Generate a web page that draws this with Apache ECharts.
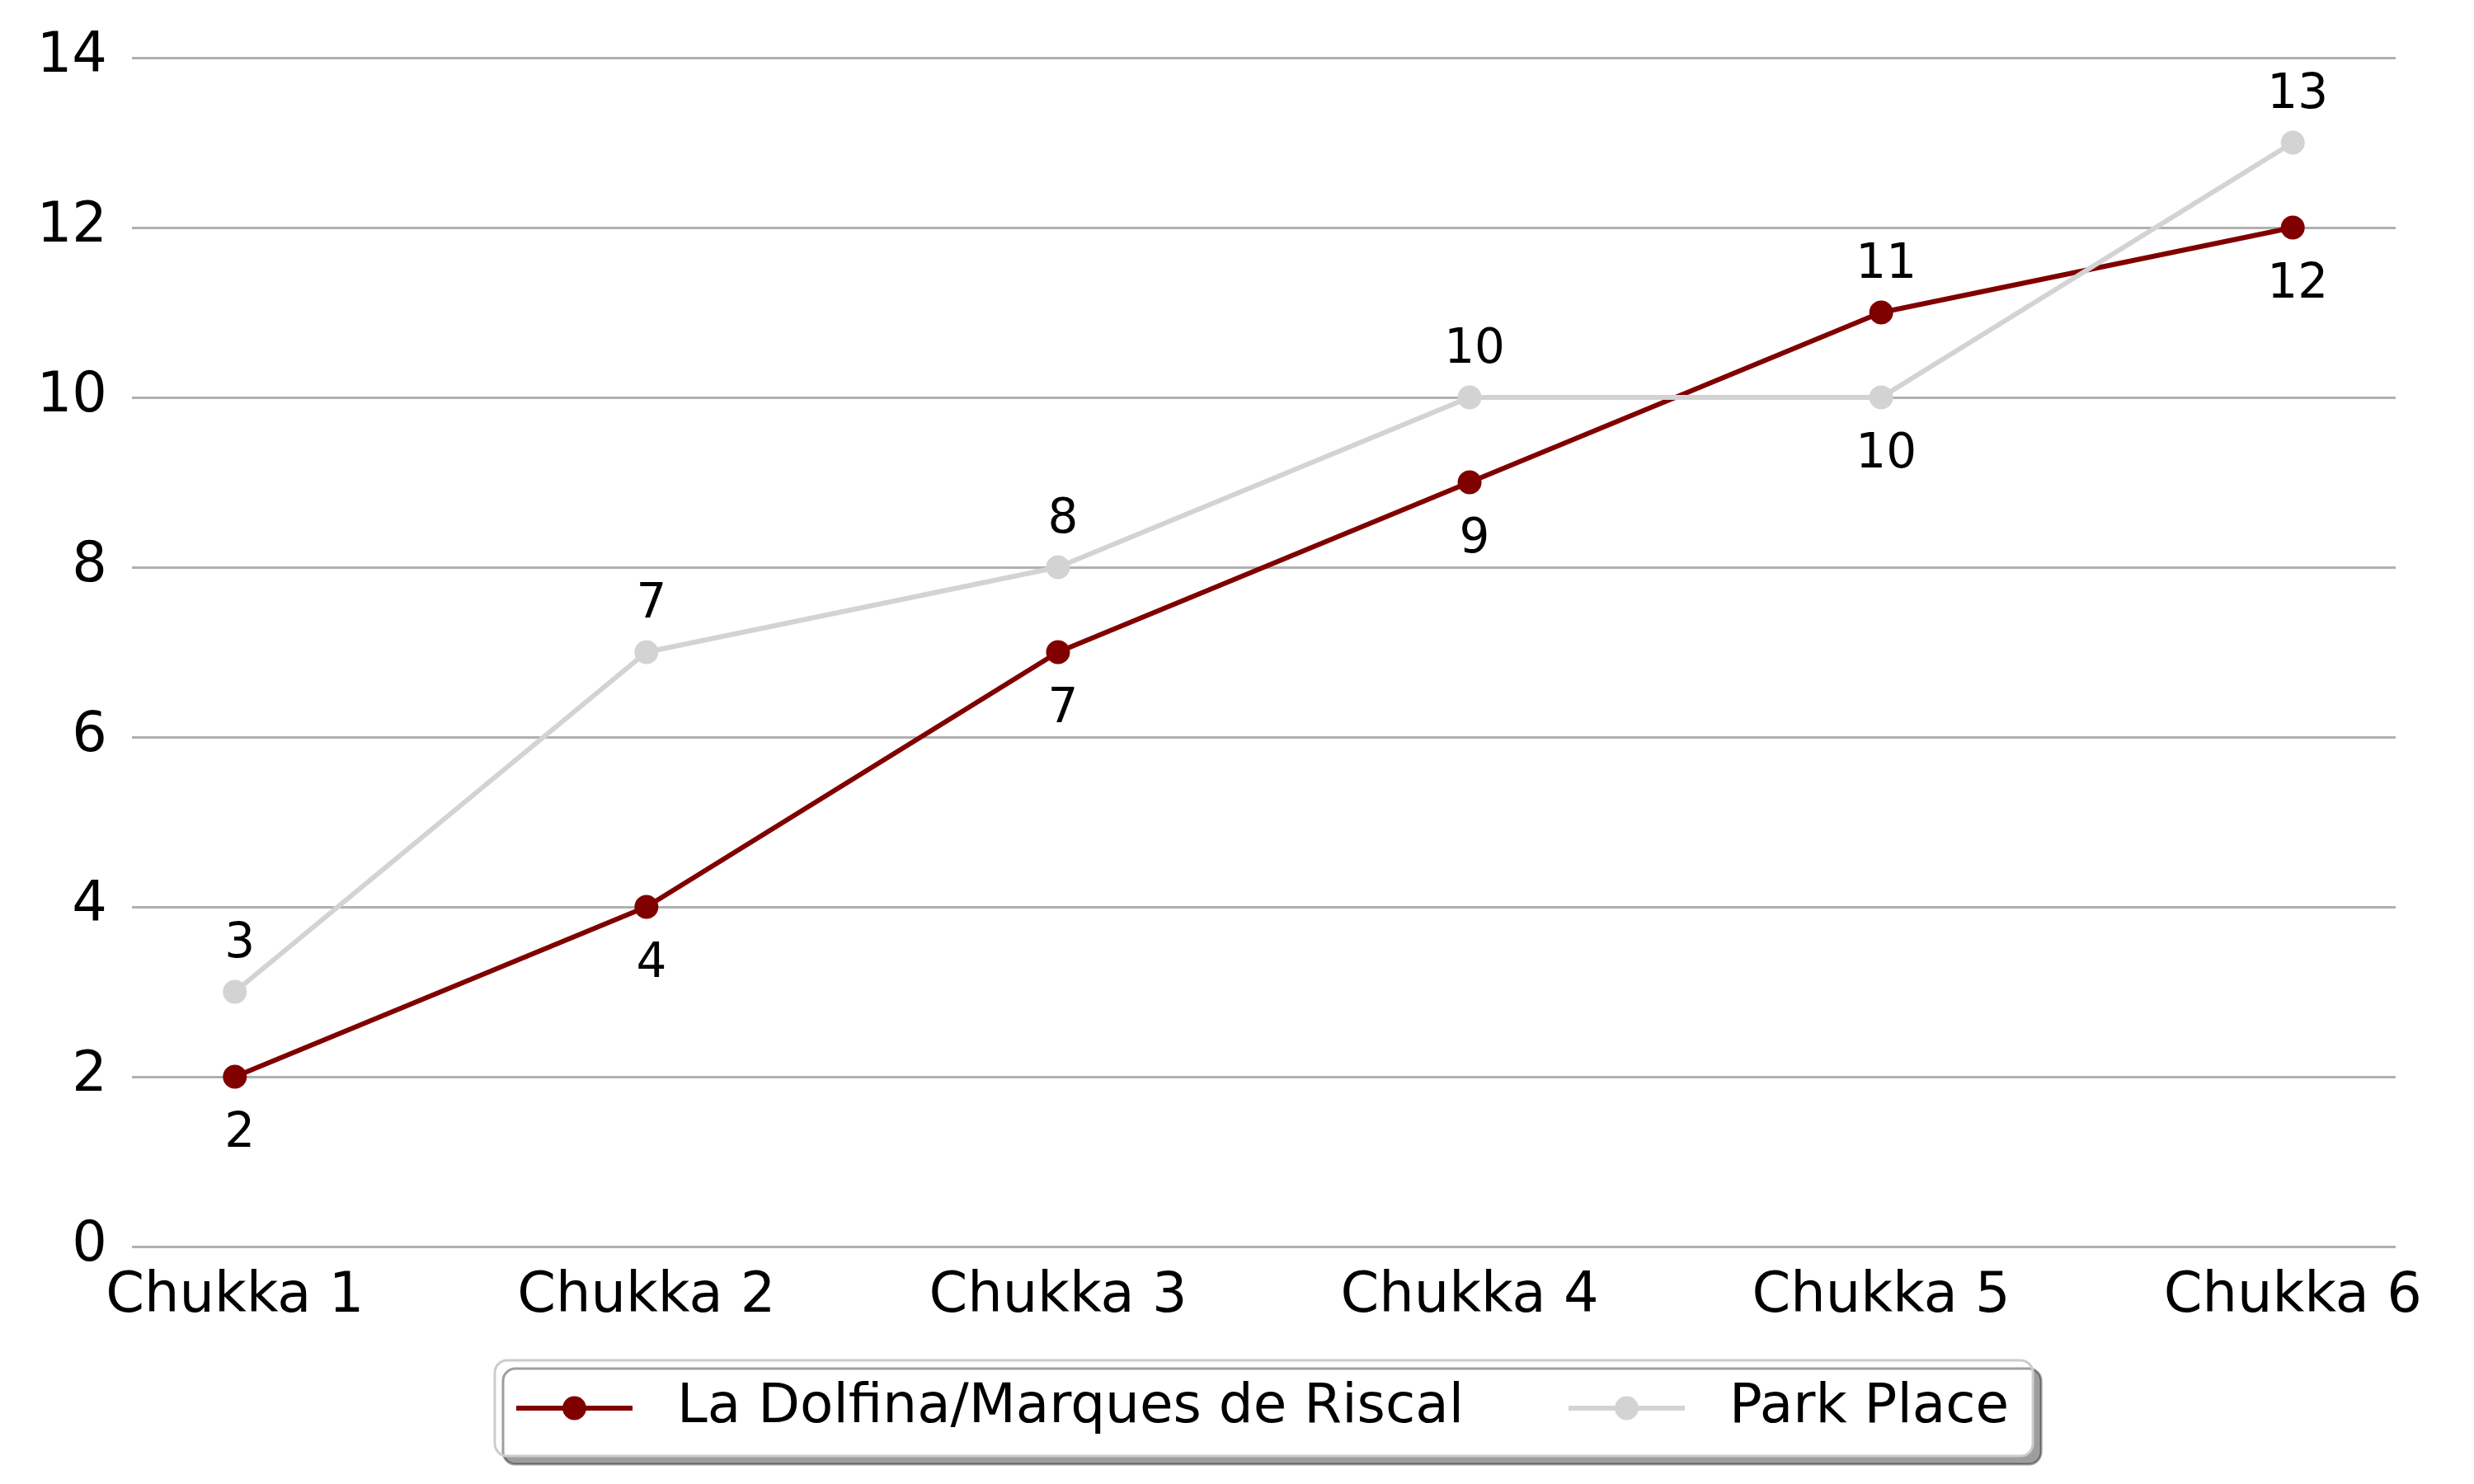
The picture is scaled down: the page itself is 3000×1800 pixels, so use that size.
<!DOCTYPE html>
<html>
<head>
<meta charset="utf-8">
<script src="https://cdn.jsdelivr.net/npm/echarts@6/dist/echarts.min.js"></script>
<style>
  html,body{margin:0;padding:0;background:#fff}
  #chart{width:3000px;height:1800px}
</style>
</head>
<body>
<div id="chart"></div>
<script>
// chart data
const categories = ['Chukka 1', 'Chukka 2', 'Chukka 3', 'Chukka 4', 'Chukka 5', 'Chukka 6'];
const laDolfina = [2, 4, 7, 9, 11, 12];
const parkPlace = [3, 7, 8, 10, 10, 13];
const yTicks = [0, 2, 4, 6, 8, 10, 12, 14];

const FONT = 'DejaVu Sans';

// label goes above the point when this team is ahead, below otherwise
function points(vals, other){
  return vals.map((v, i) => ({
    value: [i, v],
    label: { position: v > other[i] ? 'top' : 'bottom' }
  }));
}

function lineSeries(name, vals, other, color){
  return {
    name: name,
    type: 'line',
    data: points(vals, other),
    symbol: 'circle',
    symbolSize: 29,
    itemStyle: { color: color },
    lineStyle: { color: color, width: 6 },
    emphasis: { disabled: true },
    label: {
      show: true,
      distance: 20,
      offset: [6, 6],
      color: '#000',
      fontFamily: FONT,
      fontSize: 58,
      formatter: (p) => String(p.value[1])
    }
  };
}

const chart = echarts.init(document.getElementById('chart'), null, { renderer: 'canvas' });
chart.setOption({
  animation: false,
  backgroundColor: '#fff',
  grid: { left: 160, right: 95, top: 70, bottom: 288 },
  xAxis: {
    type: 'value',
    min: -0.25,
    max: categories.length - 1 + 0.25,
    minInterval: 1,
    maxInterval: 1,
    axisLine: { show: false },
    axisTick: { show: false },
    splitLine: { show: false },
    axisLabel: {
      margin: 28,
      color: '#000',
      fontFamily: FONT,
      fontSize: 67,
      formatter: (v) => Number.isInteger(v) ? categories[v] : ''
    }
  },
  yAxis: {
    type: 'value',
    min: yTicks[0],
    max: yTicks[yTicks.length - 1],
    interval: yTicks[1] - yTicks[0],
    axisLine: { show: false },
    axisTick: { show: false },
    splitLine: { lineStyle: { color: '#b0b0b0', width: 3 } },
    axisLabel: {
      margin: 30,
      padding: [12, 0, 0, 0],
      color: '#000',
      fontFamily: FONT,
      fontSize: 67
    }
  },
  legend: {
    left: 600,
    top: 1650,
    orient: 'horizontal',
    itemWidth: 141,
    itemHeight: 36,
    itemGap: 124,
    padding: [25, 29, 25, 23],
    backgroundColor: '#fff',
    borderColor: '#cccccc',
    borderWidth: 3,
    borderRadius: 15,
    shadowColor: 'rgba(0,0,0,0.38)',
    shadowBlur: 0,
    shadowOffsetX: 10,
    shadowOffsetY: 10,
    lineStyle: { width: 6 },
    textStyle: {
      color: '#000',
      fontFamily: FONT,
      fontSize: 66,
      padding: [0, 0, 0, 49]
    },
    data: ['La Dolfina/Marques de Riscal', 'Park Place']
  },
  series: [
    lineSeries('La Dolfina/Marques de Riscal', laDolfina, parkPlace, '#800000'),
    lineSeries('Park Place', parkPlace, laDolfina, '#d3d3d3')
  ]
});
</script>
</body>
</html>
